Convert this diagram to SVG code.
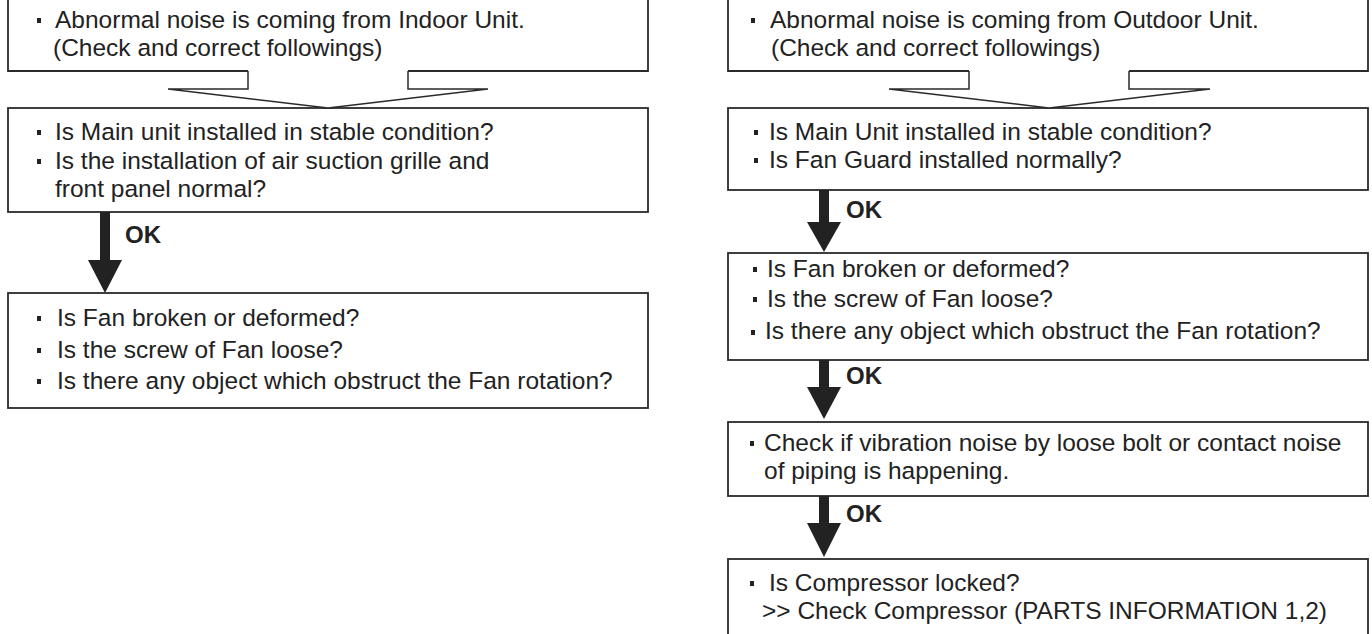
<svg xmlns="http://www.w3.org/2000/svg" width="1372" height="634" viewBox="0 0 1372 634">
<style>
.box{fill:#fff;stroke:#2a2a2a;stroke-width:1.8}
.t{font-family:"Liberation Sans",Arial,sans-serif;font-size:24.5px;fill:#222}
.ok{font-family:"Liberation Sans",Arial,sans-serif;font-size:24px;font-weight:bold;fill:#222}
.b{fill:#222}
.hollow{fill:#fff;stroke:#2a2a2a;stroke-width:1.5;stroke-linejoin:miter}
.arr{fill:#222;stroke:none}
</style>
<rect width="1372" height="634" fill="#fff"/>
<g id="L1">
<path class="box" d="M248,71 H8 V-3 H648 V71 H408" fill="none"/>
<rect class="b" x="37" y="18" width="4" height="5"/>
<text class="t" x="55" y="28">Abnormal noise is coming from Indoor Unit.</text>
<text class="t" x="53" y="56">(Check and correct followings)</text>
</g>
<g id="L2">
<rect class="box" x="8" y="108" width="640" height="104"/>
<rect class="b" x="37" y="130" width="4" height="5"/>
<text class="t" x="55" y="140">Is Main unit installed in stable condition?</text>
<rect class="b" x="37" y="159" width="4" height="5"/>
<text class="t" x="55" y="169">Is the installation of air suction grille and</text>
<text class="t" x="55" y="197">front panel normal?</text>
</g>
<g id="L3">
<rect class="box" x="8" y="293" width="640" height="115"/>
<rect class="b" x="37" y="316" width="4" height="5"/>
<text class="t" x="57" y="326">Is Fan broken or deformed?</text>
<rect class="b" x="37" y="348" width="4" height="5"/>
<text class="t" x="57" y="358">Is the screw of Fan loose?</text>
<rect class="b" x="37" y="379" width="4" height="5"/>
<text class="t" x="57" y="389">Is there any object which obstruct the Fan rotation?</text>
</g>
<g id="R1">
<path class="box" d="M969,71 H728 V-3 H1368 V71 H1129" fill="none"/>
<rect class="b" x="751" y="18" width="4" height="5"/>
<text class="t" x="770" y="28">Abnormal noise is coming from Outdoor Unit.</text>
<text class="t" x="771" y="56">(Check and correct followings)</text>
</g>
<g id="R2">
<rect class="box" x="728" y="108" width="640" height="82"/>
<rect class="b" x="754" y="130" width="4" height="5"/>
<text class="t" x="769" y="140">Is Main Unit installed in stable condition?</text>
<rect class="b" x="754" y="158" width="4" height="5"/>
<text class="t" x="769" y="168">Is Fan Guard installed normally?</text>
</g>
<g id="R3">
<rect class="box" x="728" y="253" width="640" height="107"/>
<rect class="b" x="753" y="267" width="4" height="5"/>
<text class="t" x="767" y="277">Is Fan broken or deformed?</text>
<rect class="b" x="753" y="297" width="4" height="5"/>
<text class="t" x="767" y="307">Is the screw  of Fan loose?</text>
<rect class="b" x="751" y="330" width="4" height="5"/>
<text class="t" x="765" y="339">Is there any object which obstruct the Fan rotation?</text>
</g>
<g id="R4">
<rect class="box" x="728" y="422" width="640" height="74"/>
<rect class="b" x="750" y="441" width="4" height="5"/>
<text class="t" x="764" y="451">Check if vibration noise by loose bolt or contact noise</text>
<text class="t" x="764" y="479">of piping is happening.</text>
</g>
<g id="R5">
<rect class="box" x="728" y="559" width="640" height="90"/>
<rect class="b" x="750" y="581" width="4" height="5"/>
<text class="t" x="769" y="591">Is Compressor locked?</text>
<text class="t" x="762" y="619">&gt;&gt; Check Compressor (PARTS INFORMATION 1,2)</text>
</g>
<g id="connectors">
<path class="hollow" d="M248,71 V89 H168 L328,108 L488,89 H408 V71"/>
<path class="hollow" d="M969,71 V89 H889 L1049,108 L1210,89 H1129 V71"/>
<path class="arr" d="M100,212 H110 V260 H122 L105,293 L88,260 H100 Z"/>
<text class="ok" x="125" y="243">OK</text>
<path class="arr" d="M819,190 H829 V222 H841 L824,252 L807,222 H819 Z"/>
<text class="ok" x="846" y="218">OK</text>
<path class="arr" d="M819,360 H829 V387 H841 L824,419 L807,387 H819 Z"/>
<text class="ok" x="846" y="384">OK</text>
<path class="arr" d="M819,496 H829 V523 H841 L824,557 L807,523 H819 Z"/>
<text class="ok" x="846" y="522">OK</text>
</g>
</svg>
